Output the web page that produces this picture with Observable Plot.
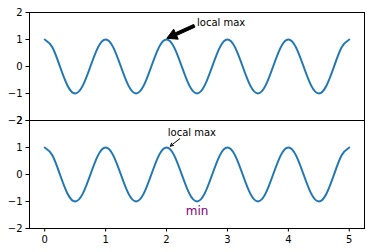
<!DOCTYPE html>
<html><head><meta charset="utf-8">
<script src="https://cdn.jsdelivr.net/npm/d3@7"></script>
<script src="https://cdn.jsdelivr.net/npm/@observablehq/plot@0.6"></script>
<style>html,body{margin:0;padding:0;background:#fff;overflow:hidden}</style>
</head><body><div id="chart"></div>
<script>
// Panels (two stacked subplots sharing x)
const panels = ["top", "bottom"];

// Curve (t, value)
const tValues = [0, 0.125, 0.25, 0.375, 0.5, 0.625, 0.75, 0.875,
  1, 1.125, 1.25, 1.375, 1.5, 1.625, 1.75, 1.875,
  2, 2.125, 2.25, 2.375, 2.5, 2.625, 2.75, 2.875,
  3, 3.125, 3.25, 3.375, 3.5, 3.625, 3.75, 3.875,
  4, 4.125, 4.25, 4.375, 4.5, 4.625, 4.75, 4.875, 5];
const sValues = [1, 0.71, 0, -0.71, -1, -0.71, 0, 0.71,
  1, 0.71, 0, -0.71, -1, -0.71, 0, 0.71,
  1, 0.71, 0, -0.71, -1, -0.71, 0, 0.71,
  1, 0.71, 0, -0.71, -1, -0.71, 0, 0.71,
  1, 0.71, 0, -0.71, -1, -0.71, 0, 0.71, 1];

// Tick labels
const xTicks = [0, 1, 2, 3, 4, 5];
const yTicks = [-2, -1, 0, 1, 2];

// Annotation texts
const labelPanel = ["top", "bottom", "bottom"];
const labelText = ["local max", "local max", "min"];
const labelX = [2.5, 2.02, 2.5];
const labelY = [1.63, 1.53, -1.34];

// Arrows: tail (x1,y1) -> tip (x2,y2)
const fatArrowPanel = ["top"];
const fatX1 = [2.465], fatY1 = [1.49], fatX2 = [2.013], fatY2 = [1.026];
const thinArrowPanel = ["bottom"];
const thinX1 = [2.215], thinY1 = [1.32], thinX2 = [2.06], thinY2 = [1.05];

const series = panels.flatMap(p => tValues.map((t, i) => ({panel: p, t, s: sValues[i]})));
const labels = labelText.map((text, i) => ({panel: labelPanel[i], text, x: labelX[i], y: labelY[i]}));
const fatArrows = fatArrowPanel.map((p, i) => ({panel: p, x1: fatX1[i], y1: fatY1[i], x2: fatX2[i], y2: fatY2[i]}));
const thinArrows = thinArrowPanel.map((p, i) => ({panel: p, x1: thinX1[i], y1: thinY1[i], x2: thinX2[i], y2: thinY2[i]}));

const [tMin, tMax] = d3.extent(tValues);
const pad = 0.05 * (tMax - tMin);

function fatRender(index, scales, values) {
  const g = d3.create("svg:g");
  for (const i of index) {
    const x1 = values.x1[i], y1 = values.y1[i], x2 = values.x2[i], y2 = values.y2[i];
    const dx = x2 - x1, dy = y2 - y1, L = Math.hypot(dx, dy);
    const ux = dx / L, uy = dy / L, px = -uy, py = ux;
    const w = 1.5, hw = 5.5, hl = 10;
    const bx = x2 - ux * hl, by = y2 - uy * hl;
    const pts = [
      [x1 + px * w, y1 + py * w], [bx + px * w, by + py * w], [bx + px * hw, by + py * hw],
      [x2, y2],
      [bx - px * hw, by - py * hw], [bx - px * w, by - py * w], [x1 - px * w, y1 - py * w]
    ];
    g.append("path")
      .attr("d", "M" + pts.map(p => p.join(",")).join("L") + "Z")
      .attr("fill", "black").attr("stroke", "black").attr("stroke-width", 1)
      .attr("stroke-linejoin", "miter");
  }
  return g.node();
}

const chart = Plot.plot({
  width: 370,
  height: 252,
  marginTop: 11,
  marginBottom: 24,
  marginLeft: 29,
  marginRight: 6,
  style: {fontFamily: "DejaVu Sans", fontSize: "10px", color: "black", background: "white", overflow: "visible"},
  x: {domain: [tMin - pad, tMax + pad], ticks: xTicks, tickFormat: "d", tickSize: 3.5, tickPadding: 3.5, label: null},
  y: {domain: [-2, 2], ticks: yTicks, tickFormat: "d", tickSize: 3.5, tickPadding: 3.5, label: null},
  fy: {domain: panels, axis: null, padding: 0},
  marks: [
    Plot.line(series, {x: "t", y: "s", fy: "panel", stroke: "#1f77b4", strokeWidth: 2, curve: "natural"}),
    Plot.text(labels.filter(d => d.text !== "min"), {x: "x", y: "y", fy: "panel", text: "text", textAnchor: "start", fill: "black", fontSize: 10}),
    Plot.text(labels.filter(d => d.text === "min"), {x: "x", y: "y", fy: "panel", text: "text", textAnchor: "middle", fill: "purple", fontSize: 12}),
    Plot.arrow(thinArrows, {x1: "x1", y1: "y1", x2: "x2", y2: "y2", fy: "panel", stroke: "black", strokeWidth: 1, headLength: 5, headAngle: 53}),
    Plot.arrow(fatArrows, {x1: "x1", y1: "y1", x2: "x2", y2: "y2", fy: "panel", stroke: "black", render: fatRender}),
    Plot.frame({stroke: "black", strokeWidth: 1})
  ]
});
document.getElementById("chart").append(chart);
</script>
</body></html>
